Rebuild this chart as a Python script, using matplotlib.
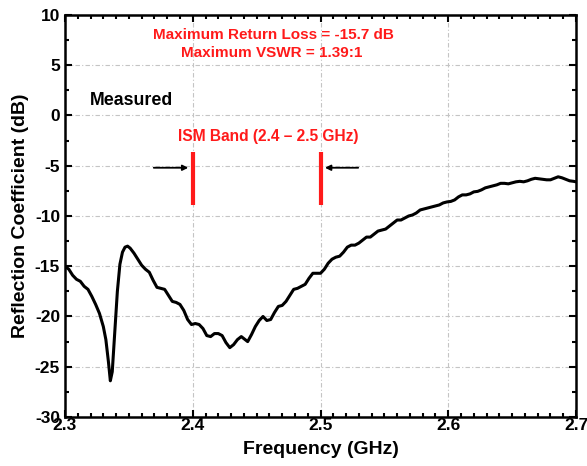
import numpy as np
import matplotlib.pyplot as plt
from matplotlib.ticker import MultipleLocator

plt.rcParams['font.family'] = ['Liberation Sans', 'DejaVu Sans']
plt.rcParams['font.weight'] = 'bold'
plt.rcParams['axes.unicode_minus'] = False

# measured reflection coefficient
freq_ghz = [2.300, 2.303, 2.306, 2.309, 2.312, 2.315, 2.318, 2.321, 2.324, 2.327,
            2.330, 2.332, 2.334, 2.3355, 2.337, 2.339, 2.341, 2.343, 2.345, 2.347,
            2.349, 2.351, 2.354, 2.357, 2.360, 2.363, 2.366, 2.369, 2.372, 2.375,
            2.378, 2.381, 2.384, 2.387, 2.390, 2.393, 2.396, 2.399, 2.402, 2.405,
            2.408, 2.411, 2.414, 2.417, 2.420, 2.423, 2.426, 2.429, 2.432, 2.435,
            2.438, 2.440, 2.443, 2.446, 2.449, 2.452, 2.455, 2.458, 2.461, 2.464,
            2.467, 2.470, 2.473, 2.476, 2.479, 2.482, 2.485, 2.488, 2.491, 2.494,
            2.497, 2.500, 2.503, 2.506, 2.509, 2.512, 2.515, 2.518, 2.521, 2.524,
            2.527, 2.530, 2.533, 2.536, 2.539, 2.542, 2.545, 2.548, 2.551, 2.554,
            2.557, 2.560, 2.563, 2.566, 2.569, 2.572, 2.575, 2.578, 2.581, 2.584,
            2.587, 2.590, 2.593, 2.596, 2.599, 2.602, 2.605, 2.608, 2.611, 2.614,
            2.617, 2.620, 2.623, 2.626, 2.629, 2.632, 2.635, 2.638, 2.641, 2.644,
            2.647, 2.650, 2.653, 2.656, 2.659, 2.662, 2.665, 2.668, 2.671, 2.674,
            2.677, 2.680, 2.683, 2.686, 2.689, 2.692, 2.695, 2.698, 2.700]
s11_db = [-15.0, -15.3, -15.9, -16.3, -16.5, -17.0, -17.3, -18.0, -18.8, -19.7,
          -21.0, -22.3, -24.5, -26.4, -25.5, -21.5, -17.5, -14.8, -13.6, -13.1,
          -13.0, -13.2, -13.7, -14.3, -14.9, -15.3, -15.6, -16.4, -17.1, -17.2,
          -17.3, -17.9, -18.5, -18.6, -18.8, -19.4, -20.3, -20.8, -20.7, -20.8,
          -21.2, -21.9, -22.0, -21.7, -21.7, -21.9, -22.6, -23.1, -22.8, -22.3,
          -22.0, -22.2, -22.5, -21.8, -21.0, -20.4, -20.0, -20.4, -20.3, -19.6,
          -19.0, -18.9, -18.5, -17.9, -17.3, -17.2, -17.0, -16.8, -16.2, -15.7,
          -15.7, -15.7, -15.3, -14.7, -14.3, -14.1, -14.0, -13.6, -13.1, -12.9,
          -12.9, -12.7, -12.4, -12.1, -12.1, -11.8, -11.5, -11.4, -11.3, -11.0,
          -10.7, -10.4, -10.4, -10.2, -10.0, -9.9, -9.7, -9.4, -9.3, -9.2,
          -9.1, -9.0, -8.9, -8.7, -8.6, -8.55, -8.4, -8.1, -7.9, -7.9,
          -7.8, -7.6, -7.55, -7.4, -7.2, -7.1, -7.0, -6.9, -6.75, -6.75,
          -6.8, -6.7, -6.6, -6.55, -6.6, -6.5, -6.35, -6.25, -6.3, -6.35,
          -6.4, -6.4, -6.25, -6.1, -6.2, -6.35, -6.5, -6.55, -6.6]

band_edges = [2.4, 2.5]

fig = plt.figure(figsize=(5.87, 4.66), dpi=100)
ax = fig.add_axes([0.1107, 0.1052, 0.8706, 0.8626])

ax.plot(freq_ghz, s11_db, color='black', lw=2.2)

# ISM band markers
red = '#ff1a1a'
for f in band_edges:
    ax.plot([f, f], [-3.6, -8.9], color=red, lw=3, solid_capstyle='butt')
ax.annotate('', xy=(2.3965, -5.2), xytext=(2.3695, -5.2),
            arrowprops=dict(arrowstyle='-|>', color='black', lw=1.3,
                            mutation_scale=8, shrinkA=0, shrinkB=0))
ax.annotate('', xy=(2.5035, -5.2), xytext=(2.5295, -5.2),
            arrowprops=dict(arrowstyle='-|>', color='black', lw=1.3,
                            mutation_scale=8, shrinkA=0, shrinkB=0))

ax.text(2.463, 8.0, 'Maximum Return Loss = -15.7 dB', color=red, fontsize=11,
        fontweight='bold', ha='center', va='center')
ax.text(2.462, 6.2, 'Maximum VSWR = 1.39:1', color=red, fontsize=11,
        fontweight='bold', ha='center', va='center')
ax.text(2.459, -2.1, 'ISM Band (2.4 \u2013 2.5 GHz)', color=red, fontsize=11.2,
        fontweight='bold', ha='center', va='center')
ax.text(2.3196, 1.5, 'Measured', color='black', fontsize=12.8,
        fontweight='bold', ha='left', va='center')

ax.set_xlim(2.3, 2.7)
ax.set_ylim(-30, 10)
ax.xaxis.set_minor_locator(MultipleLocator(0.01))
ax.yaxis.set_major_locator(MultipleLocator(5))
ax.yaxis.set_minor_locator(MultipleLocator(2.5))
ax.set_xticks([2.3, 2.4, 2.5, 2.6, 2.7])
ax.set_xticklabels(['2.3', '2.4', '2.5', '2.6', '2.7'])
ax.tick_params(which='both', direction='in', top=True, right=True,
               labelsize=12.5, width=1.5)
ax.tick_params(which='major', length=5)
ax.tick_params(which='minor', length=3)
ax.tick_params(axis='x', which='major', pad=0.5)
for lab in ax.get_xticklabels() + ax.get_yticklabels():
    lab.set_fontweight('bold')
ax.grid(True, which='major', linestyle=(0, (4, 2, 1, 2)), color='#c4c4c4', lw=0.8)
for sp in ax.spines.values():
    sp.set_linewidth(1.8)

ax.set_xlabel('Frequency (GHz)', fontsize=14, fontweight='bold', labelpad=6)
ax.set_ylabel('Reflection Coefficient (dB)', fontsize=14, fontweight='bold',
              labelpad=4)

fig.savefig('out.png', dpi=100)
